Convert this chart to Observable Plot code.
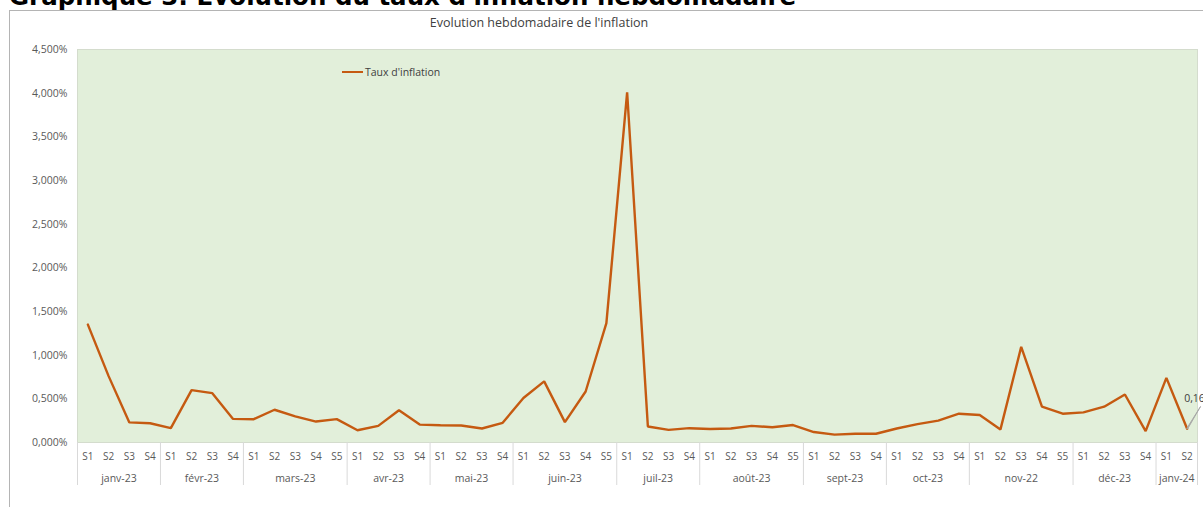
<!DOCTYPE html>
<html>
<head>
<meta charset="utf-8">
<script src="https://cdn.jsdelivr.net/npm/d3@7"></script>
<script src="https://cdn.jsdelivr.net/npm/@observablehq/plot@0.6"></script>
<style>
  html, body { margin: 0; padding: 0; background: #fff; width: 1203px; height: 507px; overflow: hidden; }
  body { position: relative; font-family: "Open Sans", "Noto Sans", sans-serif; }
  #heading { position: absolute; left: 9px; top: -15px; font: bold 24.5px/24px "DejaVu Sans", sans-serif; color: #000; white-space: nowrap; }
  #frame { position: absolute; left: 9px; top: 10px; width: 1400px; height: 700px; border: 1px solid #b4b4b4; box-sizing: border-box; background: #fff; }
  #ctitle { position: absolute; left: 0; width: 1078px; top: 14px; text-align: center; font-size: 12.5px; color: #404040; }
  #chart { position: absolute; left: 0; top: 0; }
  #legend { position: absolute; left: 342px; top: 65px; font-size: 10.5px; color: #404040; display: flex; align-items: center; white-space: nowrap; }
  #legend span.sw { display: inline-block; width: 21px; height: 2.5px; background: #C55A11; margin-right: 2px; }
</style>
</head>
<body>
<div id="heading">Graphique 3: Evolution du taux d'inflation hebdomadaire</div>
<div id="frame"></div>
<div id="ctitle">Evolution hebdomadaire de l'inflation</div>
<div id="chart"></div>
<div id="legend"><span class="sw"></span><span>Taux d'inflation</span></div>
<script>
// Months and their number of weeks
const months = ["janv-23","févr-23","mars-23","avr-23","mai-23","juin-23","juil-23","août-23","sept-23","oct-23","nov-22","déc-23","janv-24"];
const weeksPerMonth = [4,4,5,4,4,5,4,5,4,4,5,4,2];
// Weekly inflation rate (%)
const inflation = [
  1.35, 0.76, 0.23, 0.22,
  0.165, 0.60, 0.565, 0.27,
  0.267, 0.375, 0.30, 0.24, 0.267,
  0.14, 0.19, 0.37, 0.205,
  0.198, 0.195, 0.16, 0.225,
  0.51, 0.70, 0.233, 0.584, 1.366,
  4.01, 0.183, 0.145, 0.164,
  0.155, 0.16, 0.19, 0.175, 0.20,
  0.12, 0.09, 0.10, 0.10,
  0.16, 0.21, 0.25, 0.33,
  0.315, 0.15, 1.095, 0.41, 0.33,
  0.345, 0.41, 0.55, 0.13,
  0.74, 0.157
];
const yTicks = [0, 0.5, 1, 1.5, 2, 2.5, 3, 3.5, 4, 4.5];
const lastLabel = "0,16%";

// Build table
const weekLabels = [];
const monthStarts = [];
const monthCenters = [];
let k = 0;
weeksPerMonth.forEach((n, m) => {
  monthStarts.push(k - 0.5);
  monthCenters.push(k + (n - 1) / 2);
  for (let j = 1; j <= n; j++) { weekLabels.push("S" + j); k++; }
});
monthStarts.push(k - 0.5);
const data = inflation.map((v, i) => ({i, v, week: weekLabels[i]}));
const last = data[data.length - 1];

const fmt = d => d.toFixed(3).replace(".", ",") + "%";
const textColor = "#595959";

const chart = Plot.plot({
  width: 1203,
  height: 507,
  marginLeft: 77,
  marginRight: 6,
  marginTop: 49,
  marginBottom: 65,
  style: {background: "transparent", overflow: "visible", fontFamily: "'Open Sans', sans-serif", fontSize: "10.5px", color: textColor},
  x: {domain: [-0.5, inflation.length - 0.5]},
  y: {domain: [0, 4.5]},
  marks: [
    Plot.frame({fill: "#E2EFDA", stroke: "#d4dccd"}),
    Plot.axisY({ticks: yTicks, tickFormat: fmt, tickSize: 0, tickPadding: 10, fill: textColor, label: null, fontSize: 10.5}),
    Plot.axisX({ticks: d3.range(inflation.length), tickFormat: i => weekLabels[i], tickSize: 0, tickPadding: 10.5, fill: textColor, label: null, fontSize: 10}),
    Plot.axisX({ticks: monthCenters, tickFormat: d => months[monthCenters.indexOf(d)], tickSize: 0, tickPadding: 32, fill: textColor, label: null, fontSize: 10.5}),
    Plot.axisX({ticks: monthStarts, tickFormat: () => "", tickSize: 43, stroke: "#d9d9d9", label: null}),
    Plot.line(data, {x: "i", y: "v", stroke: "#C55A11", strokeWidth: 2.4, strokeLinejoin: "miter"}),
    Plot.vector([last], {x: "i", y: "v", length: 26, rotate: 31, anchor: "start", shape: "spike", r: 0.5, stroke: "#a6a6a6", strokeWidth: 0.8, fill: "#a6a6a6"}),
    Plot.text([last], {x: "i", y: "v", text: () => lastLabel, dx: -3, dy: -30, textAnchor: "start", fill: "#404040", fontSize: 10.5})
  ]
});
document.getElementById("chart").appendChild(chart);
</script>
</body>
</html>
